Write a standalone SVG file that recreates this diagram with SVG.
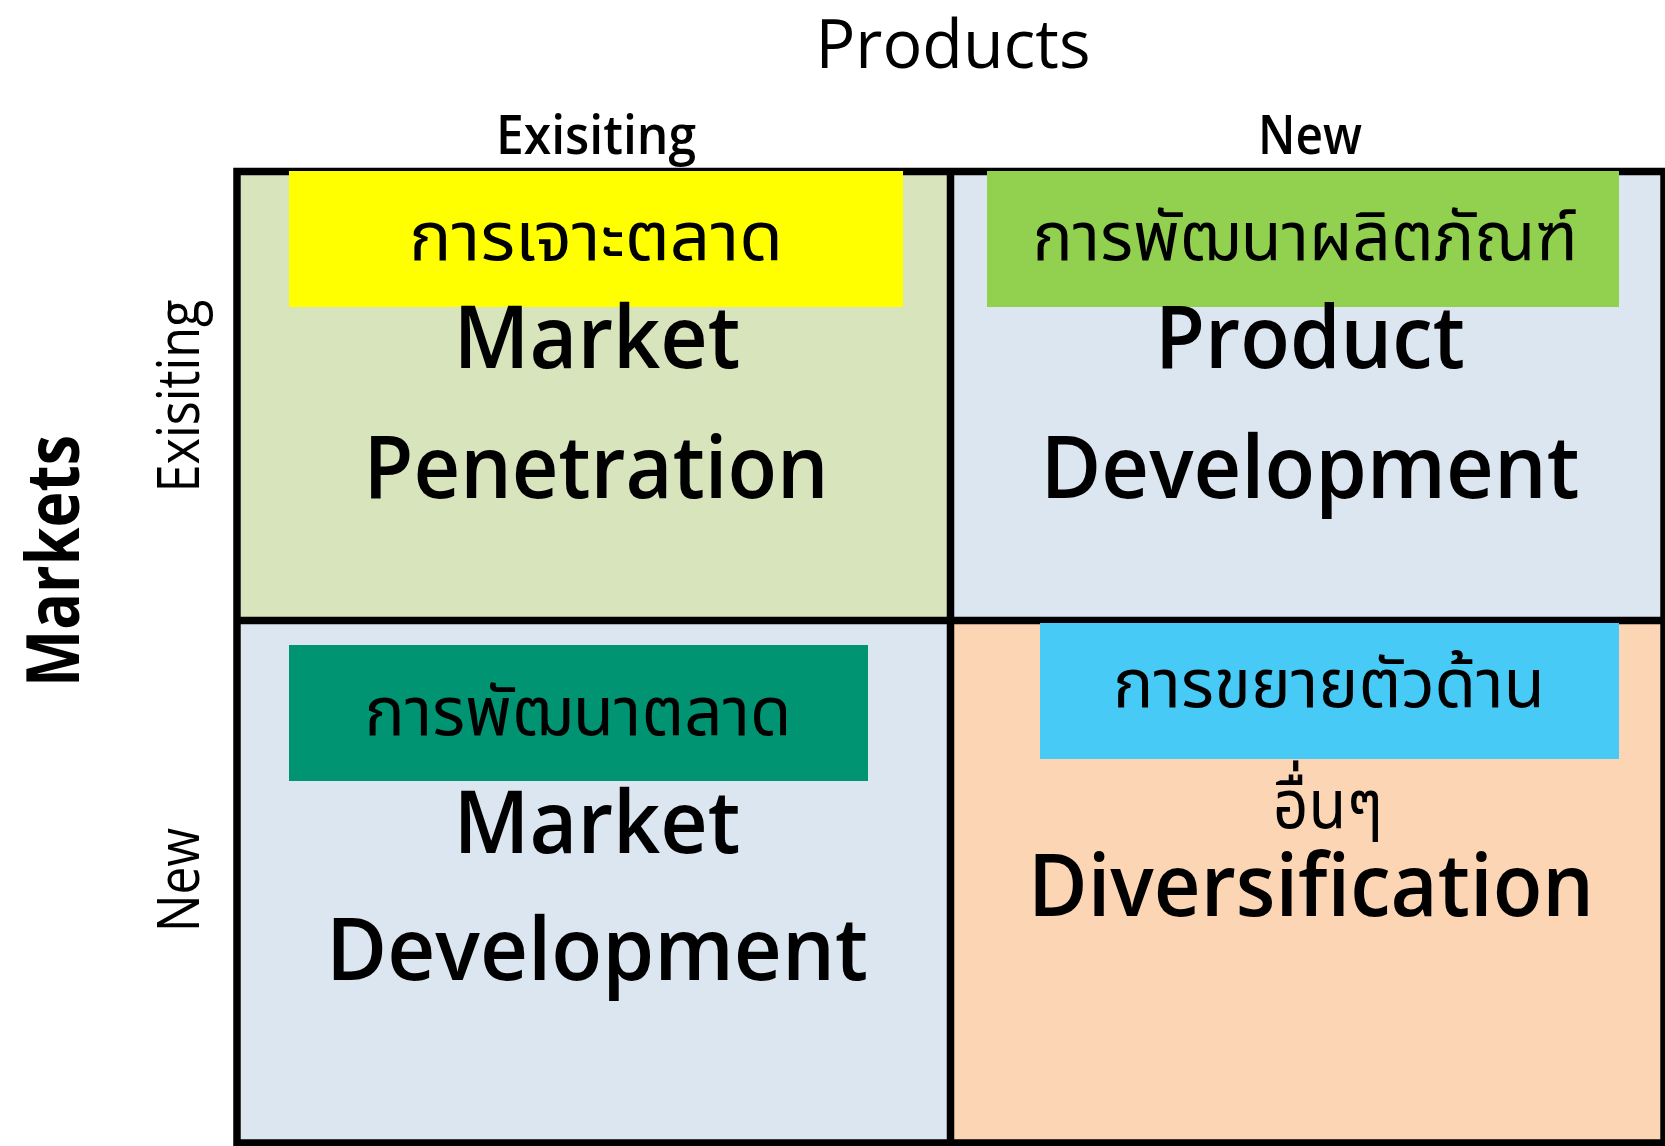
<svg xmlns="http://www.w3.org/2000/svg" width="1665" height="1146" viewBox="0 0 1665 1146">
  <style>
    .hdr { font-family: "Open Sans", "Liberation Sans", sans-serif; fill: #000; text-anchor: middle; }
    .big { font-family: "Open Sans", "Liberation Sans", sans-serif; font-size: 87px; font-weight: 600; fill: #000; text-anchor: middle; }
    .thai { font-family: "Noto Sans Thai", "Noto Sans Thai Looped", "Leelawadee UI", Tahoma, "Noto Sans", sans-serif; font-size: 67px; font-weight: 400; fill: #000; text-anchor: middle; }
    .grid { fill: none; stroke: #000; stroke-width: 7.5; }
  </style>

  <rect width="1665" height="1146" fill="#ffffff"/>

  <!-- axis headings -->
  <g id="axis-products">
    <text class="hdr" x="953" y="68" font-size="68" textLength="275" lengthAdjust="spacingAndGlyphs">Products</text>
    <text class="hdr" x="596" y="154" font-size="55" font-weight="600" textLength="200" lengthAdjust="spacingAndGlyphs">Exisiting</text>
    <text class="hdr" x="1310" y="154" font-size="55" font-weight="600" textLength="104" lengthAdjust="spacingAndGlyphs">New</text>
  </g>
  <g id="axis-markets">
    <text class="hdr" transform="translate(79 561) rotate(-90)" font-size="73" font-weight="bold" textLength="252" lengthAdjust="spacingAndGlyphs">Markets</text>
    <text class="hdr" transform="translate(199 396) rotate(-90)" font-size="59" textLength="193" lengthAdjust="spacingAndGlyphs">Exisiting</text>
    <text class="hdr" transform="translate(199 880) rotate(-90)" font-size="59" textLength="104" lengthAdjust="spacingAndGlyphs">New</text>
  </g>

  <!-- quadrant backgrounds -->
  <rect x="241" y="175" width="706" height="442" fill="#D8E4BC"/>
  <rect x="954" y="175" width="706" height="442" fill="#DCE6F1"/>
  <rect x="241" y="624" width="706" height="516" fill="#DCE6F1"/>
  <rect x="954" y="624" width="706" height="516" fill="#FCD5B4"/>

  <!-- grid lines -->
  <g id="grid">
    <rect class="grid" x="237" y="171.5" width="1427" height="971.5"/>
    <line class="grid" x1="950.5" y1="171.5" x2="950.5" y2="1143"/>
    <line class="grid" x1="237" y1="620.5" x2="1664" y2="620.5"/>
  </g>

  <g id="market-penetration">
    <rect x="289" y="171" width="614" height="136" fill="#FFFF00"/>
    <text class="thai" x="596" y="260" textLength="374" lengthAdjust="spacingAndGlyphs">การเจาะตลาด</text>
    <text class="big" x="597" y="368" textLength="287" lengthAdjust="spacingAndGlyphs">Market</text>
    <text class="big" x="596" y="498" textLength="465" lengthAdjust="spacingAndGlyphs">Penetration</text>
  </g>

  <g id="product-development">
    <rect x="987" y="171" width="632" height="136" fill="#92D050"/>
    <text class="thai" x="1305" y="260" textLength="545" lengthAdjust="spacingAndGlyphs">การพัฒนาผลิตภัณฑ์</text>
    <text class="big" x="1310" y="368" textLength="310" lengthAdjust="spacingAndGlyphs">Product</text>
    <text class="big" x="1310" y="498" textLength="539" lengthAdjust="spacingAndGlyphs">Development</text>
  </g>

  <g id="market-development">
    <rect x="289" y="645" width="579" height="136" fill="#009473"/>
    <text class="thai" x="578" y="735" textLength="427" lengthAdjust="spacingAndGlyphs">การพัฒนาตลาด</text>
    <text class="big" x="597" y="853" textLength="287" lengthAdjust="spacingAndGlyphs">Market</text>
    <text class="big" x="597" y="980" textLength="542" lengthAdjust="spacingAndGlyphs">Development</text>
  </g>

  <g id="diversification">
    <rect x="1040" y="623" width="579" height="136" fill="#47CBF6"/>
    <text class="thai" x="1329" y="707" textLength="432" lengthAdjust="spacingAndGlyphs">การขยายตัวด้าน</text>
    <text class="thai" x="1328" y="828" textLength="110" lengthAdjust="spacingAndGlyphs">อื่นๆ</text>
    <text class="big" x="1311" y="916" textLength="566" lengthAdjust="spacingAndGlyphs">Diversification</text>
  </g>
</svg>
